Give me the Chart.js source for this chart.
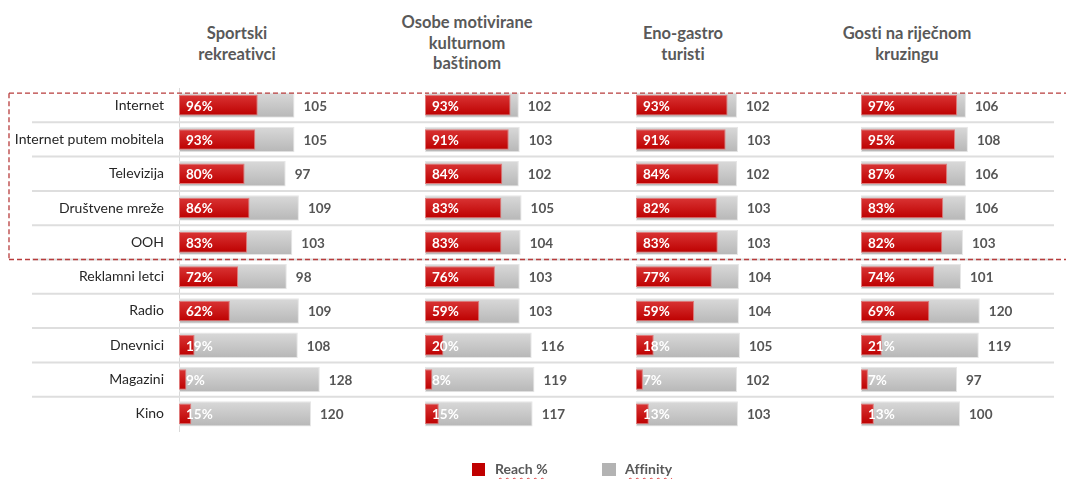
<!DOCTYPE html>
<html>
<head>
<meta charset="utf-8">
<script src="https://cdn.jsdelivr.net/npm/chart.js@4.4.1/dist/chart.umd.min.js"></script>
<style>
  body { margin: 0; width: 1066px; height: 479px; background: #fff; position: relative; overflow: hidden; font-family: Lato, sans-serif; font-variant-ligatures: none; }
  .panel { position: absolute; top: 0; height: 479px; }
  .title { position: absolute; width: 240px; text-align: center; font-weight: 700; font-size: 16.5px; line-height: 20.5px; color: #595959; }
  .swatch { position: absolute; top: 463px; width: 13px; height: 13px; }
  .legtext { position: absolute; top: 461px; font-weight: 700; font-size: 14px; line-height: 16px; color: #595959;
    text-decoration: underline wavy #e04040; text-decoration-thickness: 1px; text-underline-offset: 3px; }
</style>
</head>
<body>
<div id="titles"></div>
<div class="panel" id="p0"><canvas id="c0"></canvas></div>
<div class="panel" id="p1"><canvas id="c1"></canvas></div>
<div class="panel" id="p2"><canvas id="c2"></canvas></div>
<div class="panel" id="p3"><canvas id="c3"></canvas></div>
<div class="swatch" style="left:472px; background:#c00000;"></div>
<span class="legtext" style="left:495px;">Reach %</span>
<div class="swatch" style="left:602px; width:14px; background:#b3b3b3;"></div>
<span class="legtext" style="left:625px;">Affinity</span>
<script>
const categories = ["Internet", "Internet putem mobitela", "Televizija", "Društvene mreže", "OOH",
  "Reklamni letci", "Radio", "Dnevnici", "Magazini", "Kino"];
const groupTitles = [
  ["Sportski", "rekreativci"],
  ["Osobe motivirane", "kulturnom", "baštinom"],
  ["Eno-gastro", "turisti"],
  ["Gosti na riječnom", "kruzingu"]
];

const reachSport = [96, 93, 80, 86, 83, 72, 62, 19, 9, 15];
const affinitySport = [105, 105, 97, 109, 103, 98, 109, 108, 128, 120];
const reachCulture = [93, 91, 84, 83, 83, 76, 59, 20, 8, 15];
const affinityCulture = [102, 103, 102, 105, 104, 103, 103, 116, 119, 117];
const reachEno = [93, 91, 84, 82, 83, 77, 59, 18, 7, 13];
const affinityEno = [102, 103, 102, 103, 103, 104, 104, 105, 102, 103];
const reachCruise = [97, 95, 87, 83, 82, 74, 69, 21, 7, 13];
const affinityCruise = [106, 108, 106, 106, 103, 101, 120, 119, 97, 100];

const reachSeries = [reachSport, reachCulture, reachEno, reachCruise];
const affinitySeries = [affinitySport, affinityCulture, affinityEno, affinityCruise];

// page placement of each panel, and px per unit for each bar type
const panelLayout = [
  { left: 0, width: 425, labelWidth: 179, grayPx: 1.10, redPx: 0.82, titleX: 237, titleTop: 23, lineFrom: 32, lineTo: 425 },
  { left: 425, width: 211, labelWidth: 0, grayPx: 0.92, redPx: 0.92, titleX: 467, titleTop: 12, lineFrom: 0, lineTo: 211 },
  { left: 636, width: 225, labelWidth: 0, grayPx: 0.99, redPx: 0.985, titleX: 683, titleTop: 23, lineFrom: 0, lineTo: 225 },
  { left: 861, width: 205, labelWidth: 0, grayPx: 0.99, redPx: 0.99, titleX: 907, titleTop: 23, lineFrom: 0, lineTo: 193 }
];

Chart.defaults.font.family = "Lato, sans-serif";

// titles as html text above each panel
const titleBox = document.getElementById("titles");
groupTitles.forEach((lines, i) => {
  const d = document.createElement("div");
  d.className = "title";
  d.style.left = (panelLayout[i].titleX - 120) + "px";
  d.style.top = panelLayout[i].titleTop + "px";
  d.innerHTML = lines.join("<br>");
  titleBox.appendChild(d);
});

// vertical gradient for each bar
function barGradient(topColor, bottomColor, pct) {
  return (c) => {
    const chart = c.chart;
    const y = chart.scales.y;
    if (!y || c.dataIndex == null) return bottomColor;
    const mid = y.getPixelForValue(c.dataIndex);
    const half = (y.getPixelForValue(1) - y.getPixelForValue(0)) * pct / 2;
    if (!isFinite(mid) || !isFinite(half) || half <= 0) return bottomColor;
    const g = chart.ctx.createLinearGradient(0, mid - half, 0, mid + half);
    g.addColorStop(0, topColor);
    g.addColorStop(1, bottomColor);
    return g;
  };
}

// row separators + dashed frame round the first five rows
const frame = {
  id: "frame",
  beforeDatasetsDraw(chart, args, opts) {
    const ctx = chart.ctx;
    const y = chart.scales.y;
    const step = y.getPixelForValue(1) - y.getPixelForValue(0);
    ctx.save();
    ctx.strokeStyle = "#dedede";
    ctx.lineWidth = 2;
    for (let i = 1; i < categories.length; i++) {
      const py = y.getPixelForValue(i) - step / 2;
      ctx.beginPath();
      ctx.moveTo(opts.lineFrom, py);
      ctx.lineTo(opts.lineTo, py);
      ctx.stroke();
    }
    ctx.restore();
  },
  afterDraw(chart, args, opts) {
    const ctx = chart.ctx;
    const y = chart.scales.y;
    const step = y.getPixelForValue(1) - y.getPixelForValue(0);
    const top = y.getPixelForValue(0) - 12;
    const bottom = y.getPixelForValue(5) - step / 2;
    const x0 = opts.boxLeft != null ? opts.boxLeft : 0;
    ctx.save();
    ctx.strokeStyle = "#b83c3c";
    ctx.lineWidth = 1.3;
    ctx.setLineDash([5, 3]);
    ctx.lineDashOffset = opts.offset % 8;
    ctx.beginPath();
    ctx.moveTo(x0, top);
    ctx.lineTo(chart.width, top);
    ctx.moveTo(x0, bottom);
    ctx.lineTo(chart.width, bottom);
    if (opts.boxLeft != null) {
      ctx.moveTo(x0, top);
      ctx.lineTo(x0, bottom);
    }
    ctx.stroke();
    ctx.restore();
  }
};

// reach % inside the red bar, affinity after the grey bar
const valueLabels = {
  id: "valueLabels",
  afterDatasetsDraw(chart) {
    const ctx = chart.ctx;
    const area = chart.chartArea;
    ctx.save();
    ctx.font = "bold 13.5px Lato, sans-serif";
    ctx.textBaseline = "middle";
    ctx.textAlign = "left";
    const reachData = chart.data.datasets[0].data;
    const affData = chart.data.datasets[1].data;
    chart.getDatasetMeta(1).data.forEach((bar, i) => {
      ctx.fillStyle = "#555555";
      ctx.fillText(affData[i], bar.x + 9, bar.y + 1);
    });
    chart.getDatasetMeta(0).data.forEach((bar, i) => {
      ctx.fillStyle = "#ffffff";
      ctx.fillText(reachData[i] + "%", area.left + 7, bar.y + 1);
    });
    ctx.restore();
  }
};

panelLayout.forEach((p, i) => {
  const wrap = document.getElementById("p" + i);
  wrap.style.left = p.left + "px";
  wrap.style.width = p.width + "px";
  const plotWidth = p.width - p.labelWidth;
  const showLabels = p.labelWidth > 0;

  new Chart(document.getElementById("c" + i), {
    type: "bar",
    data: {
      labels: categories,
      datasets: [
        {
          label: "Reach %",
          data: reachSeries[i],
          xAxisID: "xr",
          backgroundColor: barGradient("#d93434", "#bd0000", 0.6),
          borderColor: "#e07a7a",
          borderWidth: 1,
          borderSkipped: false,
          barPercentage: 0.6,
          categoryPercentage: 1,
          grouped: false
        },
        {
          label: "Affinity",
          data: affinitySeries[i],
          xAxisID: "x",
          backgroundColor: barGradient("#d9d9d9", "#b7b7b7", 0.74),
          borderColor: "#e6e6e6",
          borderWidth: 1,
          borderSkipped: false,
          barPercentage: 0.74,
          categoryPercentage: 1,
          grouped: false
        }
      ]
    },
    options: {
      indexAxis: "y",
      responsive: true,
      maintainAspectRatio: false,
      animation: false,
      layout: { padding: { top: 88, bottom: 48, left: 0, right: 0 } },
      scales: {
        x: { display: false, min: 0, max: plotWidth / p.grayPx },
        xr: { display: false, min: 0, max: plotWidth / p.redPx },
        y: {
          display: showLabels,
          grid: { display: false, drawTicks: false },
          border: { display: showLabels, color: "#d9d9d9", width: 1 },
          ticks: { color: "#262626", font: { size: 14 }, padding: 15 },
          afterFit: (scale) => { if (showLabels) scale.width = p.labelWidth; }
        }
      },
      plugins: {
        legend: { display: false },
        tooltip: { enabled: false },
        frame: { lineFrom: p.lineFrom, lineTo: p.lineTo, boxLeft: i === 0 ? 9 : null, offset: p.left }
      }
    },
    plugins: [frame, valueLabels]
  });
});
</script>
</body>
</html>
